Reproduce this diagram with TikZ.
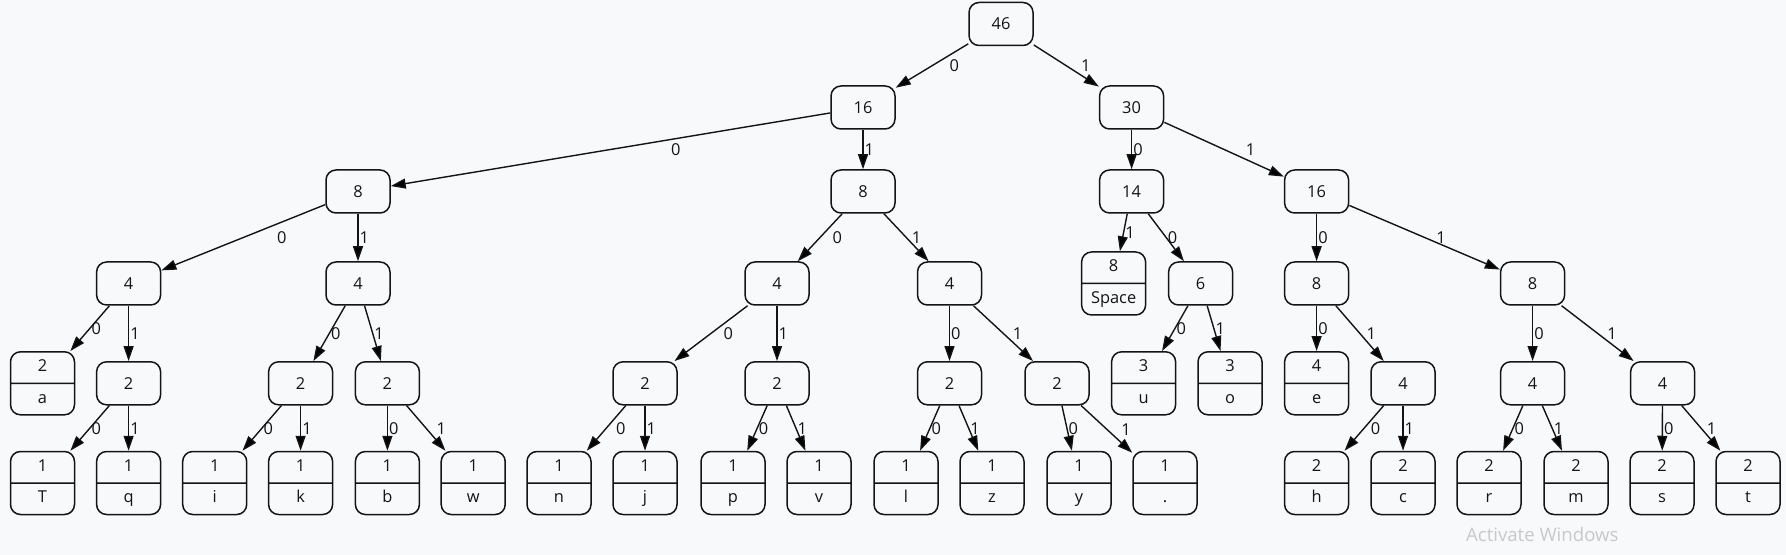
\documentclass[tikz,border=0pt]{standalone}
\usepackage{fontspec}
\setmainfont{Open Sans}
\usetikzlibrary{arrows.meta,shapes.multipart}
\definecolor{bgcol}{RGB}{248,249,250}
\definecolor{inkcol}{RGB}{20,20,20}
\definecolor{wmcol}{RGB}{200,200,200}
\newcommand{\leafstrut}{\rule[-2.5pt]{0pt}{9pt}}
\newcommand{\leafrec}[2]{\leafstrut#1\nodepart{two}\leafstrut#2}
\begin{document}
\begin{tikzpicture}[x=0.5pt,y=0.5pt,yscale=-1,
  every node/.style={font=\fontsize{8.2}{10}\selectfont, text=inkcol},
  weight/.style={draw=inkcol, rounded corners=5pt, minimum width=32pt, minimum height=21.5pt, inner sep=0pt, line width=0.75pt},
  leafbox/.style={draw=inkcol, rectangle split, rectangle split parts=2, rounded corners=5pt, minimum width=32pt, inner xsep=0pt, inner ysep=3pt, line width=0.75pt},
  link/.style={draw=inkcol, line width=0.7pt, -{Triangle[length=7.5pt,width=5pt]}},
  bit/.style={midway, anchor=west, inner sep=0.5pt}]
\useasboundingbox (0,0) rectangle (1786,555);
\fill[bgcol] (0,0) rectangle (1786,555);
% Level 0
\node[weight] (n46) at (1001,24) {46};
% Level 1
\node[weight] (n16) at (863,107.5) {16};
\node[weight] (n30) at (1131.6,107.5) {30};
% Level 2
\node[weight] (n8a) at (358,191.5) {8};
\node[weight] (n8b) at (863,191.5) {8};
\node[weight] (n14) at (1131.6,191.5) {14};
\node[weight] (n16r) at (1316.6,191.5) {16};
% Level 3
\node[weight] (n4a) at (128.6,283.5) {4};
\node[weight] (n4b) at (358,283.5) {4};
\node[weight] (n4c) at (777,283.5) {4};
\node[weight] (n4d) at (949.5,283.5) {4};
\node[leafbox] (lspace) at (1113.6,283.5) {\leafrec{8}{Space}};
\node[weight] (n6) at (1200.6,283.5) {6};
\node[weight] (n8c) at (1316.6,283.5) {8};
\node[weight] (n8d) at (1532.6,283.5) {8};
% Level 4
\node[leafbox] (la) at (42.5,383.3) {\leafrec{2}{a}};
\node[weight] (n2a) at (128.6,383.3) {2};
\node[weight] (n2b) at (300.6,383.3) {2};
\node[weight] (n2c) at (387.4,383.3) {2};
\node[weight] (n2d) at (645,383.3) {2};
\node[weight] (n2e) at (777,383.3) {2};
\node[weight] (n2f) at (949.5,383.3) {2};
\node[weight] (n2g) at (1057,383.3) {2};
\node[leafbox] (lu) at (1143.6,383.3) {\leafrec{3}{u}};
\node[leafbox] (lo) at (1230,383.3) {\leafrec{3}{o}};
\node[leafbox] (le) at (1316.6,383.3) {\leafrec{4}{e}};
\node[weight] (n4e) at (1403,383.3) {4};
\node[weight] (n4f) at (1532.6,383.3) {4};
\node[weight] (n4g) at (1662.6,383.3) {4};
% Level 5
\node[leafbox] (lT) at (42.5,483) {\leafrec{1}{T}};
\node[leafbox] (lq) at (128.6,483) {\leafrec{1}{q}};
\node[leafbox] (li) at (214.7,483) {\leafrec{1}{i}};
\node[leafbox] (lk) at (300.6,483) {\leafrec{1}{k}};
\node[leafbox] (lb) at (387.4,483) {\leafrec{1}{b}};
\node[leafbox] (lw) at (473.2,483) {\leafrec{1}{w}};
\node[leafbox] (ln) at (559,483) {\leafrec{1}{n}};
\node[leafbox] (lj) at (645,483) {\leafrec{1}{j}};
\node[leafbox] (lp) at (733,483) {\leafrec{1}{p}};
\node[leafbox] (lv) at (819,483) {\leafrec{1}{v}};
\node[leafbox] (ll) at (906,483) {\leafrec{1}{l}};
\node[leafbox] (lz) at (992,483) {\leafrec{1}{z}};
\node[leafbox] (ly) at (1079,483) {\leafrec{1}{y}};
\node[leafbox] (ldot) at (1165,483) {\leafrec{1}{.}};
\node[leafbox] (lh) at (1316.6,483) {\leafrec{2}{h}};
\node[leafbox] (lc) at (1403,483) {\leafrec{2}{c}};
\node[leafbox] (lr) at (1489,483) {\leafrec{2}{r}};
\node[leafbox] (lm) at (1576,483) {\leafrec{2}{m}};
\node[leafbox] (ls) at (1662,483) {\leafrec{2}{s}};
\node[leafbox] (lt) at (1748,483) {\leafrec{2}{t}};
% Edges
\draw[link] (n46) -- node[bit, xshift=8pt] {0} (n16);
\draw[link] (n46) -- node[bit, xshift=6.5pt] {1} (n30);
\draw[link] (n16) -- node[bit, xshift=29.5pt] {0} (n8a);
\draw[link] (n16) -- node[bit] {1} (n8b);
\draw[link] (n30) -- node[bit] {0} (n14);
\draw[link] (n30) -- node[bit, xshift=10pt] {1} (n16r);
\draw[link] (n8a) -- node[bit, xshift=16pt] {0} (n4a);
\draw[link] (n8a) -- node[bit] {1} (n4b);
\draw[link] (n8b) -- node[bit, xshift=5.5pt] {0} (n4c);
\draw[link] (n8b) -- node[bit, xshift=2pt] {1} (n4d);
\draw[link] (n14) -- node[bit] {1} (lspace);
\draw[link] (n14) -- node[bit] {0} (n6);
\draw[link] (n16r) -- node[bit] {0} (n8c);
\draw[link] (n16r) -- node[bit, xshift=5pt] {1} (n8d);
\draw[link] (n4a) -- node[bit] {0} (la);
\draw[link] (n4a) -- node[bit] {1} (n2a);
\draw[link] (n4b) -- node[bit] {0} (n2b);
\draw[link] (n4b) -- node[bit] {1} (n2c);
\draw[link] (n4c) -- node[bit, xshift=5.5pt] {0} (n2d);
\draw[link] (n4c) -- node[bit] {1} (n2e);
\draw[link] (n4d) -- node[bit] {0} (n2f);
\draw[link] (n4d) -- node[bit, xshift=4pt] {1} (n2g);
\draw[link] (n6) -- node[bit] {0} (lu);
\draw[link] (n6) -- node[bit] {1} (lo);
\draw[link] (n8c) -- node[bit] {0} (le);
\draw[link] (n8c) -- node[bit, xshift=2.5pt] {1} (n4e);
\draw[link] (n8d) -- node[bit] {0} (n4f);
\draw[link] (n8d) -- node[bit, xshift=4pt] {1} (n4g);
\draw[link] (n2a) -- node[bit] {0} (lT);
\draw[link] (n2a) -- node[bit] {1} (lq);
\draw[link] (n2b) -- node[bit] {0} (li);
\draw[link] (n2b) -- node[bit] {1} (lk);
\draw[link] (n2c) -- node[bit] {0} (lb);
\draw[link] (n2c) -- node[bit, xshift=4.5pt] {1} (lw);
\draw[link] (n2d) -- node[bit, xshift=4pt] {0} (ln);
\draw[link] (n2d) -- node[bit] {1} (lj);
\draw[link] (n2e) -- node[bit] {0} (lp);
\draw[link] (n2e) -- node[bit] {1} (lv);
\draw[link] (n2f) -- node[bit] {0} (ll);
\draw[link] (n2f) -- node[bit] {1} (lz);
\draw[link] (n2g) -- node[bit] {0} (ly);
\draw[link] (n2g) -- node[bit, xshift=6.5pt] {1} (ldot);
\draw[link] (n4e) -- node[bit, xshift=2.5pt] {0} (lh);
\draw[link] (n4e) -- node[bit] {1} (lc);
\draw[link] (n4f) -- node[bit] {0} (lr);
\draw[link] (n4f) -- node[bit] {1} (lm);
\draw[link] (n4g) -- node[bit] {0} (ls);
\draw[link] (n4g) -- node[bit, xshift=2pt] {1} (lt);
% Watermark
\node[anchor=base west, inner sep=0pt, text=wmcol, font=\fontsize{9.3}{11}\selectfont] (wm) at (1465.7,541.7) {Activate Windows};
\end{tikzpicture}
\end{document}
